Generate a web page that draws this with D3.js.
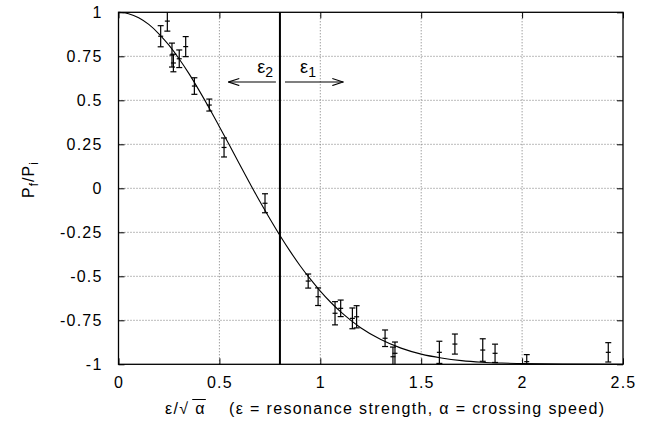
<!DOCTYPE html>
<html>
<head>
<meta charset="utf-8">
<script src="https://cdn.jsdelivr.net/npm/d3@7"></script>
<style>
  body { margin: 0; background: #fff; }
  text { font-family: "Liberation Sans", Arial, sans-serif; fill: #000; }
</style>
</head>
<body>
<div id="chart"></div>
<script>
// Measured points: x = eps/sqrt(alpha), y = Pf/Pi, err = half error bar
const pointX = [0.209, 0.242, 0.265, 0.272, 0.301, 0.333, 0.376, 0.45, 0.523, 0.726,
                0.94, 0.989, 1.073, 1.101, 1.159, 1.18, 1.321, 1.36, 1.37,
                1.59, 1.667, 1.805, 1.866, 2.023, 2.427];
const pointY = [0.864, 0.95, 0.757, 0.712, 0.736, 0.805, 0.581, 0.473, 0.232, -0.085,
                -0.527, -0.616, -0.71, -0.682, -0.739, -0.73, -0.852, -0.957, -0.9375,
                -0.932, -0.885, -0.919, -0.9375, -0.985, -0.932];
const pointErr = [0.06, 0.057, 0.068, 0.05, 0.05, 0.057, 0.047, 0.034, 0.054, 0.054,
                  0.04, 0.05, 0.066, 0.047, 0.059, 0.063, 0.047, 0.055, 0.064,
                  0.063, 0.057, 0.064, 0.052, 0.04, 0.055];

// Theory curve
const curveX = [0, 0.05, 0.1, 0.15, 0.2, 0.25, 0.3, 0.35, 0.4, 0.45, 0.5, 0.55, 0.6, 0.65,
                0.7, 0.75, 0.8, 0.85, 0.9, 0.95, 1.0, 1.05, 1.1, 1.15, 1.2, 1.3, 1.4,
                1.5, 1.6, 1.7, 1.8, 1.9, 2.0, 2.2, 2.5];
const curveY = [1, 0.992, 0.969, 0.931, 0.878, 0.813, 0.736, 0.650, 0.555, 0.455, 0.350,
                0.244, 0.136, 0.030, -0.074, -0.173, -0.268, -0.357, -0.440, -0.515,
                -0.584, -0.646, -0.701, -0.749, -0.792, -0.859, -0.908, -0.942, -0.964,
                -0.979, -0.988, -0.993, -0.996, -0.999, -1.0];

const xTicks = [0, 0.5, 1, 1.5, 2, 2.5];
const yTicks = [-1, -0.75, -0.5, -0.25, 0, 0.25, 0.5, 0.75, 1];
const markerX = 0.8;

const W = 655, H = 421;
const margin = {top: 12.3, right: 32, bottom: 56.7, left: 118.5};
const width = W - margin.left - margin.right,
      height = H - margin.top - margin.bottom;

const svg = d3.select("#chart").append("svg")
    .attr("width", W)
    .attr("height", H);

const g = svg.append("g")
    .attr("transform", `translate(${margin.left},${margin.top})`);

const x = d3.scaleLinear().domain([0, 2.5]).range([0, width]);
const y = d3.scaleLinear().domain([-1, 1]).range([height, 0]);

// Grid
g.append("g")
  .selectAll("line")
  .data(xTicks.slice(1, -1))
  .join("line")
    .attr("x1", d => x(d)).attr("x2", d => x(d))
    .attr("y1", 0).attr("y2", height)
    .attr("stroke", "#777").attr("stroke-width", 1)
    .attr("stroke-dasharray", "1,2");

g.append("g")
  .selectAll("line")
  .data(yTicks.slice(1, -1))
  .join("line")
    .attr("x1", 0).attr("x2", width)
    .attr("y1", d => y(d)).attr("y2", d => y(d))
    .attr("stroke", "#777").attr("stroke-width", 1)
    .attr("stroke-dasharray", "1,2");

// Axes (gnuplot style: inward ticks, mirrored)
const fmt = d => String(d);
const labelStyle = a => a.selectAll("text")
    .style("font-size", "16px")
    .style("letter-spacing", "1.2px")
    .style("font-family", "'Liberation Sans', Arial, sans-serif");
g.append("g")
    .attr("transform", `translate(0,${height})`)
    .call(d3.axisBottom(x).tickValues(xTicks).tickFormat(fmt).tickSizeInner(-6).tickSizeOuter(0).tickPadding(12))
    .call(a => a.select(".domain").remove())
    .call(labelStyle);
g.append("g")
    .call(d3.axisTop(x).tickValues(xTicks).tickFormat("").tickSizeInner(-6).tickSizeOuter(0))
    .call(a => a.select(".domain").remove());
g.append("g")
    .call(d3.axisLeft(y).tickValues(yTicks).tickFormat(fmt).tickSizeInner(-6).tickSizeOuter(0).tickPadding(16))
    .call(a => a.select(".domain").remove())
    .call(labelStyle);
g.append("g")
    .attr("transform", `translate(${width},0)`)
    .call(d3.axisRight(y).tickValues(yTicks).tickFormat("").tickSizeInner(-6).tickSizeOuter(0))
    .call(a => a.select(".domain").remove());

// Frame
g.append("rect")
    .attr("x", 0).attr("y", 0)
    .attr("width", width).attr("height", height)
    .attr("fill", "none").attr("stroke", "#000").attr("stroke-width", 1.3);

// Theory curve
const curve = curveX.map((d, i) => ({x: d, y: curveY[i]}));
g.append("path")
    .datum(curve)
    .attr("fill", "none")
    .attr("stroke", "#000")
    .attr("stroke-width", 1.1)
    .attr("d", d3.line().x(d => x(d.x)).y(d => y(d.y)).curve(d3.curveMonotoneX));

// Error bars
const pts = pointX.map((d, i) => ({x: d, y: pointY[i], e: pointErr[i]}));
const clip = v => Math.max(-1, Math.min(1, v));
const eb = g.append("g").attr("stroke", "#000").attr("stroke-width", 1.2);
pts.forEach(p => {
    const px = x(p.x);
    eb.append("line")
        .attr("x1", px).attr("x2", px)
        .attr("y1", y(clip(p.y - p.e))).attr("y2", y(clip(p.y + p.e)));
    [p.y - p.e, p.y + p.e].forEach(v => {
        if (v < -1 || v > 1) return;
        eb.append("line")
            .attr("x1", px - 3).attr("x2", px + 3)
            .attr("y1", y(v)).attr("y2", y(v));
    });
    eb.append("line")
        .attr("x1", px - 2.5).attr("x2", px + 2.5)
        .attr("y1", y(p.y)).attr("y2", y(p.y));
});

// Vertical marker line at eps/sqrt(alpha) = 0.8
g.append("line")
    .attr("x1", x(markerX)).attr("x2", x(markerX))
    .attr("y1", 0).attr("y2", height)
    .attr("stroke", "#000").attr("stroke-width", 2);

// Arrows
const defs = svg.append("defs");
defs.append("marker")
    .attr("id", "arrow")
    .attr("viewBox", "0 0 12 10")
    .attr("refX", 12).attr("refY", 5)
    .attr("markerWidth", 12).attr("markerHeight", 9)
    .attr("markerUnits", "userSpaceOnUse")
    .attr("orient", "auto")
  .append("path")
    .attr("d", "M0,1 L12,5 L0,9")
    .attr("fill", "none").attr("stroke", "#000").attr("stroke-width", 1.2);

const arrowY = y(0.604);
g.append("line")
    .attr("x1", x(0.78)).attr("x2", x(0.545))
    .attr("y1", arrowY).attr("y2", arrowY)
    .attr("stroke", "#000").attr("stroke-width", 1.2)
    .attr("marker-end", "url(#arrow)");
g.append("line")
    .attr("x1", x(0.825)).attr("x2", x(1.113))
    .attr("y1", arrowY).attr("y2", arrowY)
    .attr("stroke", "#000").attr("stroke-width", 1.2)
    .attr("marker-end", "url(#arrow)");

const lab2 = g.append("text")
    .attr("x", x(0.687)).attr("y", y(0.655))
    .style("font-size", "18px");
lab2.append("tspan").text("ε");
lab2.append("tspan").attr("dy", 4).style("font-size", "14px").text("2");

const lab1 = g.append("text")
    .attr("x", x(0.9)).attr("y", y(0.655))
    .style("font-size", "18px");
lab1.append("tspan").text("ε");
lab1.append("tspan").attr("dy", 4).style("font-size", "14px").text("1");

// Y label
const yl = svg.append("text")
    .attr("transform", `translate(34,${margin.top + y(0.05)}) rotate(-90)`)
    .attr("text-anchor", "middle")
    .style("font-size", "16px")
    .style("letter-spacing", "1px");
yl.append("tspan").text("P");
yl.append("tspan").attr("dy", 4).style("font-size", "12px").text("f");
yl.append("tspan").attr("dy", -4).text("/P");
yl.append("tspan").attr("dy", 4).style("font-size", "12px").text("i");

// X label
const xl = svg.append("text")
    .attr("x", 165).attr("y", 414)
    .attr("xml:space", "preserve")
    .style("font-size", "16px")
    .style("letter-spacing", "1.35px");
xl.append("tspan").text("ε/√ ");
const alphaSpan = xl.append("tspan").text("α");
xl.append("tspan").text("    (ε = resonance strength, α = crossing speed)");

// overline for the square root
const bb = alphaSpan.node().getBBox();
svg.append("line")
    .attr("x1", bb.x - 3).attr("x2", bb.x + bb.width)
    .attr("y1", 399.5).attr("y2", 399.5)
    .attr("stroke", "#000").attr("stroke-width", 1);
</script>
</body>
</html>
